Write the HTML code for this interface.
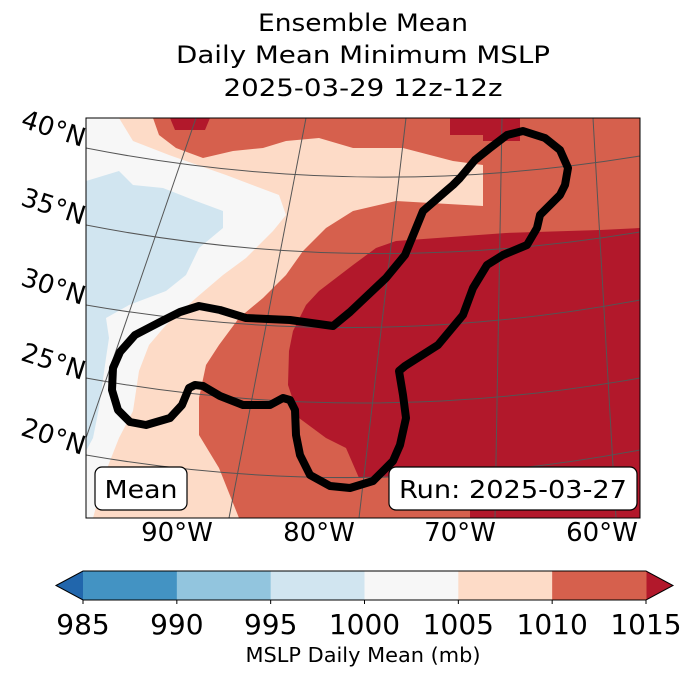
<!DOCTYPE html>
<html><head><meta charset="utf-8">
<style>
html,body{margin:0;padding:0;background:#fff;}
body{width:688px;height:674px;overflow:hidden;font-family:"DejaVu Sans","Liberation Sans",sans-serif;}
</style></head>
<body>
<svg width="688" height="674" viewBox="0 0 688 674" xmlns="http://www.w3.org/2000/svg" font-family="DejaVu Sans, Liberation Sans, sans-serif">
<g font-size="24" text-anchor="middle" fill="#000">
<text x="363" y="31" textLength="210" lengthAdjust="spacingAndGlyphs">Ensemble Mean</text>
<text x="363" y="63" textLength="374" lengthAdjust="spacingAndGlyphs">Daily Mean Minimum MSLP</text>
<text x="363" y="96" textLength="279" lengthAdjust="spacingAndGlyphs">2025-03-29 12z-12z</text>
</g>
<defs><clipPath id="mc"><rect x="86" y="118" width="554" height="400"/></clipPath></defs>
<g clip-path="url(#mc)">
<rect x="86" y="118" width="554" height="400" fill="#d6604d"/>
<g id="fields"></g>
<g id="grid" fill="none" stroke="#555" stroke-width="1"></g>
<g id="contour"></g>
</g>
<rect x="86" y="118" width="554" height="400" fill="none" stroke="#000" stroke-width="1"/>
<g>
<rect x="95" y="467" width="92" height="43" rx="7" fill="#fff" stroke="#000" stroke-width="1.2"/>
<text x="141" y="498" font-size="25" text-anchor="middle" textLength="73" lengthAdjust="spacingAndGlyphs">Mean</text>
</g>
<g>
<rect x="389" y="467" width="248" height="43" rx="7" fill="#fff" stroke="#000" stroke-width="1.2"/>
<text x="513" y="498" font-size="25" text-anchor="middle" textLength="228" lengthAdjust="spacingAndGlyphs">Run: 2025-03-27</text>
</g>
<g id="lonlabels" font-size="26" text-anchor="middle"></g>
<g id="latlabels" font-size="26" text-anchor="end"></g>
<g id="cbar"></g>
<text x="363" y="662" font-size="20" text-anchor="middle" textLength="235" lengthAdjust="spacingAndGlyphs">MSLP Daily Mean (mb)</text>
</svg>
<script>
const levels=[985,990,995,1000,1005,1010,1015];
const colors=["#4393c3","#92c5de","#d1e5f0","#f7f7f7","#fddbc7","#d6604d"];
const underColor="#2166ac", overColor="#b2182b";
const lonTicks=["90°W","80°W","70°W","60°W"];
const latTicks=["40°N","35°N","30°N","25°N","20°N"];
const NS="http://www.w3.org/2000/svg";
function mk(t,a,p){const e=document.createElementNS(NS,t);for(const k in a)e.setAttribute(k,a[k]);p.appendChild(e);return e;}
function P(pts){return pts.map(p=>p.join(",")).join(" ");}
const F=document.getElementById('fields');
let e;
e=mk('polygon',{points:P([[86,118],[153,118],[159,135],[176,148],[203,158],[233,151],[263,148],[286,141],[319,138],[353,148],[403,148],[453,161],[483,165],[483,206],[396,201],[353,211],[326,228],[303,251],[286,275],[263,298],[239,318],[219,345],[206,365],[199,398],[199,435],[219,468],[239,518],[86,518]]),fill:"#fddbc7"},F);


e=mk('polygon',{points:P([[86,118],[119,118],[133,141],[169,155],[226,175],[279,195],[286,215],[273,231],[246,258],[223,275],[196,298],[166,325],[149,345],[139,371],[133,411],[119,438],[106,471],[93,518],[86,518]]),fill:"#f7f7f7"},F);


e=mk('polygon',{points:P([[86,181],[96,178],[119,171],[133,185],[163,188],[196,201],[223,211],[223,228],[199,248],[186,275],[166,291],[129,305],[106,318],[109,338],[106,358],[99,408],[93,438],[86,451]]),fill:"#d1e5f0"},F);


e=mk('polygon',{points:P([[640,228],[600,230],[506,233],[396,241],[376,248],[353,265],[319,291],[306,305],[293,331],[289,351],[288,385],[299,418],[326,438],[346,448],[359,478],[470,472],[470,518],[640,518]]),fill:"#b2182b"},F);


e=mk('polygon',{points:P([[170,118],[210,118],[205,130],[175,130]]),fill:"#b2182b"},F);


e=mk('polygon',{points:P([[450,118],[520,118],[520,141],[483,141],[483,135],[450,135]]),fill:"#b2182b"},F);


const G=document.getElementById('grid');
[[148,156],[225,232],[305,300],[378,378],[455,450]].forEach(([l,r])=>{
 const p=mk('path',{d:`M86,${l} Q360,${(l+r)/2+50} 640,${r}`},G);
 
 
});
[[196,118,86,438],[306,118,229,518],[406,118,359,518],[502,118,495,518],[593,118,616,518]].forEach(([a,b,c,d])=>{
 const p=mk('line',{x1:a,y1:b,x2:c,y2:d},G);
 
 
});
const C=document.getElementById('contour');
const cpts=[[507,135],[523,131],[545,138],[560,150],[568,168],[565,185],[560,195],[540,215],[537,228],[527,245],[503,255],[487,265],[473,288],[463,315],[438,345],[405,366],[399,371],[403,395],[406,418],[400,445],[393,461],[373,481],[350,488],[330,486],[310,475],[300,455],[296,435],[295,410],[290,400],[283,398],[270,405],[243,405],[220,396],[203,386],[195,385],[189,388],[182,405],[170,418],[146,425],[130,422],[118,410],[112,390],[113,368],[120,352],[135,335],[160,322],[180,312],[199,306],[220,310],[246,318],[290,320],[333,326],[350,312],[386,278],[405,255],[423,211],[446,191],[453,185],[460,178],[475,160],[490,148]];
e=mk('polygon',{points:P(cpts),fill:"none",stroke:"#000","stroke-width":8,"stroke-linejoin":"round"},C);


const LO=document.getElementById('lonlabels');
const lonX=[177,319,460,602];
lonTicks.forEach((t,i)=>{const x=mk('text',{x:lonX[i],y:541},LO);x.textContent=t;
 
 });
const LA=document.getElementById('latlabels');
const latY=[147,225,305,380,455];
latTicks.forEach((t,i)=>{const y=latY[i];const x=mk('text',{x:82,y:y,transform:`rotate(18 82 ${y})`},LA);x.textContent=t;
 
 });
const CB=document.getElementById('cbar');
const x0=83,x1=646,y0=571,y1=600,n=colors.length,w=(x1-x0)/n;
e=mk('polygon',{points:`${x0},${y0} ${x0},${y1} 56,${(y0+y1)/2}`,fill:underColor},CB);


e=mk('polygon',{points:`${x1},${y0} ${x1},${y1} 673,${(y0+y1)/2}`,fill:overColor},CB);


colors.forEach((c,i)=>{const r=mk('rect',{x:x0+i*w,y:y0,width:w+0.5,height:y1-y0,fill:c},CB);
 
 });
e=mk('polygon',{points:`56,${(y0+y1)/2} ${x0},${y0} ${x1},${y0} 673,${(y0+y1)/2} ${x1},${y1} ${x0},${y1}`,fill:"none",stroke:"#000","stroke-width":1},CB);


levels.forEach((v,i)=>{const x=x0+i*w;
 const tk=mk('line',{x1:x,y1:y1,x2:x,y2:y1+4,stroke:"#000"},CB);
 
 
 const t=mk('text',{x:x,y:634,"font-size":28,"text-anchor":"middle"},CB);t.textContent=v;
 
 });
</script>
</body></html>
